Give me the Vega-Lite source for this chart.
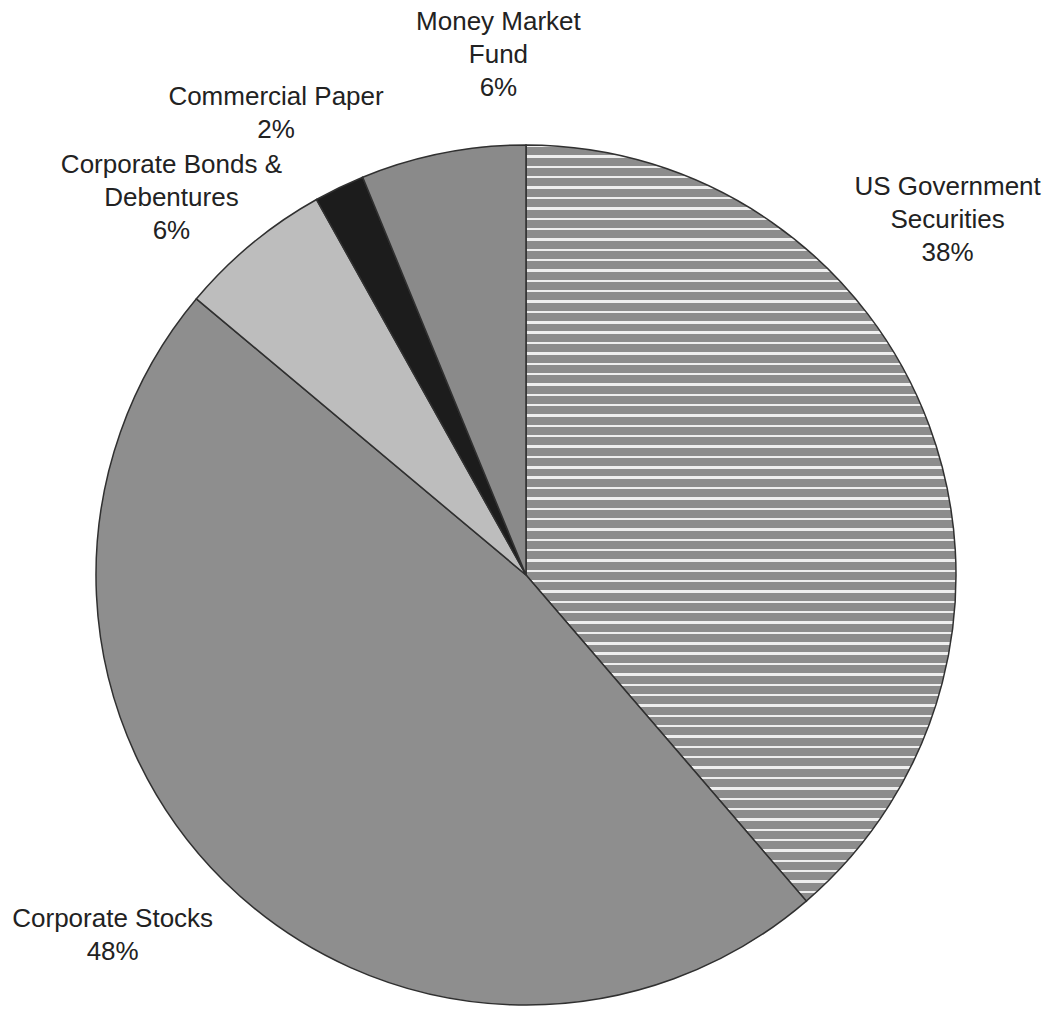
{
  "$schema": "https://vega.github.io/schema/vega-lite/v6.json",
  "width": 1052,
  "height": 874,
  "padding": {"top": 138, "left": 0, "right": 0, "bottom": 0},
  "autosize": {"type": "none"},
  "background": "white",
  "config": {"view": {"stroke": null}, "text": {"font": "Liberation Sans"}},
  "data": {
    "values": [
      {"category": "US Government Securities", "share": 38.7, "order": 1, "label": "US Government\nSecurities\n38%"},
      {"category": "Corporate Stocks", "share": 47.4, "order": 2, "label": "Corporate Stocks\n48%"},
      {"category": "Corporate Bonds & Debentures", "share": 5.8, "order": 3, "label": "Corporate Bonds &\nDebentures\n6%"},
      {"category": "Commercial Paper", "share": 1.9, "order": 4, "label": "Commercial Paper\n2%"},
      {"category": "Money Market Fund", "share": 6.2, "order": 5, "label": "Money Market\nFund\n6%"}
    ]
  },
  "encoding": {
    "theta": {"field": "share", "type": "quantitative", "stack": true},
    "order": {"field": "order", "type": "quantitative"}
  },
  "layer": [
    {
      "mark": {"type": "arc", "outerRadius": 430, "stroke": "#303030", "strokeWidth": 1.5},
      "encoding": {
        "color": {
          "condition": {
            "test": "datum.category === 'US Government Securities'",
            "value": {
              "gradient": "linear", "x1": 0, "y1": 0, "x2": 0, "y2": 1,
              "stops": [
{"offset":0.0000,"color":"#eeeeee"},{"offset":0.0032,"color":"#eeeeee"},{"offset":0.0032,"color":"#8c8c8c"},{"offset":0.0137,"color":"#8c8c8c"},
{"offset":0.0137,"color":"#eeeeee"},{"offset":0.0169,"color":"#eeeeee"},{"offset":0.0169,"color":"#8c8c8c"},{"offset":0.0274,"color":"#8c8c8c"},
{"offset":0.0274,"color":"#eeeeee"},{"offset":0.0306,"color":"#eeeeee"},{"offset":0.0306,"color":"#8c8c8c"},{"offset":0.0411,"color":"#8c8c8c"},
{"offset":0.0411,"color":"#eeeeee"},{"offset":0.0443,"color":"#eeeeee"},{"offset":0.0443,"color":"#8c8c8c"},{"offset":0.0548,"color":"#8c8c8c"},
{"offset":0.0548,"color":"#eeeeee"},{"offset":0.0580,"color":"#eeeeee"},{"offset":0.0580,"color":"#8c8c8c"},{"offset":0.0685,"color":"#8c8c8c"},
{"offset":0.0685,"color":"#eeeeee"},{"offset":0.0717,"color":"#eeeeee"},{"offset":0.0717,"color":"#8c8c8c"},{"offset":0.0822,"color":"#8c8c8c"},
{"offset":0.0822,"color":"#eeeeee"},{"offset":0.0854,"color":"#eeeeee"},{"offset":0.0854,"color":"#8c8c8c"},{"offset":0.0959,"color":"#8c8c8c"},
{"offset":0.0959,"color":"#eeeeee"},{"offset":0.0991,"color":"#eeeeee"},{"offset":0.0991,"color":"#8c8c8c"},{"offset":0.1096,"color":"#8c8c8c"},
{"offset":0.1096,"color":"#eeeeee"},{"offset":0.1128,"color":"#eeeeee"},{"offset":0.1128,"color":"#8c8c8c"},{"offset":0.1233,"color":"#8c8c8c"},
{"offset":0.1233,"color":"#eeeeee"},{"offset":0.1265,"color":"#eeeeee"},{"offset":0.1265,"color":"#8c8c8c"},{"offset":0.1370,"color":"#8c8c8c"},
{"offset":0.1370,"color":"#eeeeee"},{"offset":0.1402,"color":"#eeeeee"},{"offset":0.1402,"color":"#8c8c8c"},{"offset":0.1507,"color":"#8c8c8c"},
{"offset":0.1507,"color":"#eeeeee"},{"offset":0.1539,"color":"#eeeeee"},{"offset":0.1539,"color":"#8c8c8c"},{"offset":0.1644,"color":"#8c8c8c"},
{"offset":0.1644,"color":"#eeeeee"},{"offset":0.1676,"color":"#eeeeee"},{"offset":0.1676,"color":"#8c8c8c"},{"offset":0.1781,"color":"#8c8c8c"},
{"offset":0.1781,"color":"#eeeeee"},{"offset":0.1813,"color":"#eeeeee"},{"offset":0.1813,"color":"#8c8c8c"},{"offset":0.1918,"color":"#8c8c8c"},
{"offset":0.1918,"color":"#eeeeee"},{"offset":0.1950,"color":"#eeeeee"},{"offset":0.1950,"color":"#8c8c8c"},{"offset":0.2055,"color":"#8c8c8c"},
{"offset":0.2055,"color":"#eeeeee"},{"offset":0.2087,"color":"#eeeeee"},{"offset":0.2087,"color":"#8c8c8c"},{"offset":0.2192,"color":"#8c8c8c"},
{"offset":0.2192,"color":"#eeeeee"},{"offset":0.2224,"color":"#eeeeee"},{"offset":0.2224,"color":"#8c8c8c"},{"offset":0.2329,"color":"#8c8c8c"},
{"offset":0.2329,"color":"#eeeeee"},{"offset":0.2361,"color":"#eeeeee"},{"offset":0.2361,"color":"#8c8c8c"},{"offset":0.2466,"color":"#8c8c8c"},
{"offset":0.2466,"color":"#eeeeee"},{"offset":0.2498,"color":"#eeeeee"},{"offset":0.2498,"color":"#8c8c8c"},{"offset":0.2603,"color":"#8c8c8c"},
{"offset":0.2603,"color":"#eeeeee"},{"offset":0.2635,"color":"#eeeeee"},{"offset":0.2635,"color":"#8c8c8c"},{"offset":0.2740,"color":"#8c8c8c"},
{"offset":0.2740,"color":"#eeeeee"},{"offset":0.2772,"color":"#eeeeee"},{"offset":0.2772,"color":"#8c8c8c"},{"offset":0.2877,"color":"#8c8c8c"},
{"offset":0.2877,"color":"#eeeeee"},{"offset":0.2909,"color":"#eeeeee"},{"offset":0.2909,"color":"#8c8c8c"},{"offset":0.3014,"color":"#8c8c8c"},
{"offset":0.3014,"color":"#eeeeee"},{"offset":0.3046,"color":"#eeeeee"},{"offset":0.3046,"color":"#8c8c8c"},{"offset":0.3151,"color":"#8c8c8c"},
{"offset":0.3151,"color":"#eeeeee"},{"offset":0.3183,"color":"#eeeeee"},{"offset":0.3183,"color":"#8c8c8c"},{"offset":0.3288,"color":"#8c8c8c"},
{"offset":0.3288,"color":"#eeeeee"},{"offset":0.3320,"color":"#eeeeee"},{"offset":0.3320,"color":"#8c8c8c"},{"offset":0.3425,"color":"#8c8c8c"},
{"offset":0.3425,"color":"#eeeeee"},{"offset":0.3457,"color":"#eeeeee"},{"offset":0.3457,"color":"#8c8c8c"},{"offset":0.3562,"color":"#8c8c8c"},
{"offset":0.3562,"color":"#eeeeee"},{"offset":0.3594,"color":"#eeeeee"},{"offset":0.3594,"color":"#8c8c8c"},{"offset":0.3699,"color":"#8c8c8c"},
{"offset":0.3699,"color":"#eeeeee"},{"offset":0.3731,"color":"#eeeeee"},{"offset":0.3731,"color":"#8c8c8c"},{"offset":0.3836,"color":"#8c8c8c"},
{"offset":0.3836,"color":"#eeeeee"},{"offset":0.3868,"color":"#eeeeee"},{"offset":0.3868,"color":"#8c8c8c"},{"offset":0.3973,"color":"#8c8c8c"},
{"offset":0.3973,"color":"#eeeeee"},{"offset":0.4005,"color":"#eeeeee"},{"offset":0.4005,"color":"#8c8c8c"},{"offset":0.4110,"color":"#8c8c8c"},
{"offset":0.4110,"color":"#eeeeee"},{"offset":0.4142,"color":"#eeeeee"},{"offset":0.4142,"color":"#8c8c8c"},{"offset":0.4247,"color":"#8c8c8c"},
{"offset":0.4247,"color":"#eeeeee"},{"offset":0.4279,"color":"#eeeeee"},{"offset":0.4279,"color":"#8c8c8c"},{"offset":0.4384,"color":"#8c8c8c"},
{"offset":0.4384,"color":"#eeeeee"},{"offset":0.4416,"color":"#eeeeee"},{"offset":0.4416,"color":"#8c8c8c"},{"offset":0.4521,"color":"#8c8c8c"},
{"offset":0.4521,"color":"#eeeeee"},{"offset":0.4553,"color":"#eeeeee"},{"offset":0.4553,"color":"#8c8c8c"},{"offset":0.4658,"color":"#8c8c8c"},
{"offset":0.4658,"color":"#eeeeee"},{"offset":0.4690,"color":"#eeeeee"},{"offset":0.4690,"color":"#8c8c8c"},{"offset":0.4795,"color":"#8c8c8c"},
{"offset":0.4795,"color":"#eeeeee"},{"offset":0.4827,"color":"#eeeeee"},{"offset":0.4827,"color":"#8c8c8c"},{"offset":0.4932,"color":"#8c8c8c"},
{"offset":0.4932,"color":"#eeeeee"},{"offset":0.4964,"color":"#eeeeee"},{"offset":0.4964,"color":"#8c8c8c"},{"offset":0.5068,"color":"#8c8c8c"},
{"offset":0.5068,"color":"#eeeeee"},{"offset":0.5100,"color":"#eeeeee"},{"offset":0.5100,"color":"#8c8c8c"},{"offset":0.5205,"color":"#8c8c8c"},
{"offset":0.5205,"color":"#eeeeee"},{"offset":0.5237,"color":"#eeeeee"},{"offset":0.5237,"color":"#8c8c8c"},{"offset":0.5342,"color":"#8c8c8c"},
{"offset":0.5342,"color":"#eeeeee"},{"offset":0.5374,"color":"#eeeeee"},{"offset":0.5374,"color":"#8c8c8c"},{"offset":0.5479,"color":"#8c8c8c"},
{"offset":0.5479,"color":"#eeeeee"},{"offset":0.5511,"color":"#eeeeee"},{"offset":0.5511,"color":"#8c8c8c"},{"offset":0.5616,"color":"#8c8c8c"},
{"offset":0.5616,"color":"#eeeeee"},{"offset":0.5648,"color":"#eeeeee"},{"offset":0.5648,"color":"#8c8c8c"},{"offset":0.5753,"color":"#8c8c8c"},
{"offset":0.5753,"color":"#eeeeee"},{"offset":0.5785,"color":"#eeeeee"},{"offset":0.5785,"color":"#8c8c8c"},{"offset":0.5890,"color":"#8c8c8c"},
{"offset":0.5890,"color":"#eeeeee"},{"offset":0.5922,"color":"#eeeeee"},{"offset":0.5922,"color":"#8c8c8c"},{"offset":0.6027,"color":"#8c8c8c"},
{"offset":0.6027,"color":"#eeeeee"},{"offset":0.6059,"color":"#eeeeee"},{"offset":0.6059,"color":"#8c8c8c"},{"offset":0.6164,"color":"#8c8c8c"},
{"offset":0.6164,"color":"#eeeeee"},{"offset":0.6196,"color":"#eeeeee"},{"offset":0.6196,"color":"#8c8c8c"},{"offset":0.6301,"color":"#8c8c8c"},
{"offset":0.6301,"color":"#eeeeee"},{"offset":0.6333,"color":"#eeeeee"},{"offset":0.6333,"color":"#8c8c8c"},{"offset":0.6438,"color":"#8c8c8c"},
{"offset":0.6438,"color":"#eeeeee"},{"offset":0.6470,"color":"#eeeeee"},{"offset":0.6470,"color":"#8c8c8c"},{"offset":0.6575,"color":"#8c8c8c"},
{"offset":0.6575,"color":"#eeeeee"},{"offset":0.6607,"color":"#eeeeee"},{"offset":0.6607,"color":"#8c8c8c"},{"offset":0.6712,"color":"#8c8c8c"},
{"offset":0.6712,"color":"#eeeeee"},{"offset":0.6744,"color":"#eeeeee"},{"offset":0.6744,"color":"#8c8c8c"},{"offset":0.6849,"color":"#8c8c8c"},
{"offset":0.6849,"color":"#eeeeee"},{"offset":0.6881,"color":"#eeeeee"},{"offset":0.6881,"color":"#8c8c8c"},{"offset":0.6986,"color":"#8c8c8c"},
{"offset":0.6986,"color":"#eeeeee"},{"offset":0.7018,"color":"#eeeeee"},{"offset":0.7018,"color":"#8c8c8c"},{"offset":0.7123,"color":"#8c8c8c"},
{"offset":0.7123,"color":"#eeeeee"},{"offset":0.7155,"color":"#eeeeee"},{"offset":0.7155,"color":"#8c8c8c"},{"offset":0.7260,"color":"#8c8c8c"},
{"offset":0.7260,"color":"#eeeeee"},{"offset":0.7292,"color":"#eeeeee"},{"offset":0.7292,"color":"#8c8c8c"},{"offset":0.7397,"color":"#8c8c8c"},
{"offset":0.7397,"color":"#eeeeee"},{"offset":0.7429,"color":"#eeeeee"},{"offset":0.7429,"color":"#8c8c8c"},{"offset":0.7534,"color":"#8c8c8c"},
{"offset":0.7534,"color":"#eeeeee"},{"offset":0.7566,"color":"#eeeeee"},{"offset":0.7566,"color":"#8c8c8c"},{"offset":0.7671,"color":"#8c8c8c"},
{"offset":0.7671,"color":"#eeeeee"},{"offset":0.7703,"color":"#eeeeee"},{"offset":0.7703,"color":"#8c8c8c"},{"offset":0.7808,"color":"#8c8c8c"},
{"offset":0.7808,"color":"#eeeeee"},{"offset":0.7840,"color":"#eeeeee"},{"offset":0.7840,"color":"#8c8c8c"},{"offset":0.7945,"color":"#8c8c8c"},
{"offset":0.7945,"color":"#eeeeee"},{"offset":0.7977,"color":"#eeeeee"},{"offset":0.7977,"color":"#8c8c8c"},{"offset":0.8082,"color":"#8c8c8c"},
{"offset":0.8082,"color":"#eeeeee"},{"offset":0.8114,"color":"#eeeeee"},{"offset":0.8114,"color":"#8c8c8c"},{"offset":0.8219,"color":"#8c8c8c"},
{"offset":0.8219,"color":"#eeeeee"},{"offset":0.8251,"color":"#eeeeee"},{"offset":0.8251,"color":"#8c8c8c"},{"offset":0.8356,"color":"#8c8c8c"},
{"offset":0.8356,"color":"#eeeeee"},{"offset":0.8388,"color":"#eeeeee"},{"offset":0.8388,"color":"#8c8c8c"},{"offset":0.8493,"color":"#8c8c8c"},
{"offset":0.8493,"color":"#eeeeee"},{"offset":0.8525,"color":"#eeeeee"},{"offset":0.8525,"color":"#8c8c8c"},{"offset":0.8630,"color":"#8c8c8c"},
{"offset":0.8630,"color":"#eeeeee"},{"offset":0.8662,"color":"#eeeeee"},{"offset":0.8662,"color":"#8c8c8c"},{"offset":0.8767,"color":"#8c8c8c"},
{"offset":0.8767,"color":"#eeeeee"},{"offset":0.8799,"color":"#eeeeee"},{"offset":0.8799,"color":"#8c8c8c"},{"offset":0.8904,"color":"#8c8c8c"},
{"offset":0.8904,"color":"#eeeeee"},{"offset":0.8936,"color":"#eeeeee"},{"offset":0.8936,"color":"#8c8c8c"},{"offset":0.9041,"color":"#8c8c8c"},
{"offset":0.9041,"color":"#eeeeee"},{"offset":0.9073,"color":"#eeeeee"},{"offset":0.9073,"color":"#8c8c8c"},{"offset":0.9178,"color":"#8c8c8c"},
{"offset":0.9178,"color":"#eeeeee"},{"offset":0.9210,"color":"#eeeeee"},{"offset":0.9210,"color":"#8c8c8c"},{"offset":0.9315,"color":"#8c8c8c"},
{"offset":0.9315,"color":"#eeeeee"},{"offset":0.9347,"color":"#eeeeee"},{"offset":0.9347,"color":"#8c8c8c"},{"offset":0.9452,"color":"#8c8c8c"},
{"offset":0.9452,"color":"#eeeeee"},{"offset":0.9484,"color":"#eeeeee"},{"offset":0.9484,"color":"#8c8c8c"},{"offset":0.9589,"color":"#8c8c8c"},
{"offset":0.9589,"color":"#eeeeee"},{"offset":0.9621,"color":"#eeeeee"},{"offset":0.9621,"color":"#8c8c8c"},{"offset":0.9726,"color":"#8c8c8c"},
{"offset":0.9726,"color":"#eeeeee"},{"offset":0.9758,"color":"#eeeeee"},{"offset":0.9758,"color":"#8c8c8c"},{"offset":0.9863,"color":"#8c8c8c"},
{"offset":0.9863,"color":"#eeeeee"},{"offset":0.9895,"color":"#eeeeee"},{"offset":0.9895,"color":"#8c8c8c"},{"offset":1.0000,"color":"#8c8c8c"}
              ]
            }
          },
          "field": "category",
          "type": "nominal",
          "legend": null,
          "scale": {
            "domain": ["US Government Securities", "Corporate Stocks", "Corporate Bonds & Debentures", "Commercial Paper", "Money Market Fund"],
            "range": ["#9a9a9a", "#8e8e8e", "#bdbdbd", "#1c1c1c", "#8a8a8a"]
          }
        }
      }
    },
    {
      "mark": {"type": "text", "radius": 573, "thetaOffset": -0.389, "align": "center", "baseline": "middle", "fontSize": 26, "lineHeight": 33, "lineBreak": "\n", "color": "#222222"},
      "encoding": {"text": {"condition": {"test": "datum.category === 'US Government Securities'", "field": "label", "type": "nominal"}, "value": ""}}
    },
    {
      "mark": {"type": "text", "radius": 538, "thetaOffset": 0.097, "align": "center", "baseline": "middle", "fontSize": 26, "lineHeight": 33, "lineBreak": "\n", "color": "#222222"},
      "encoding": {"text": {"condition": {"test": "datum.category === 'Corporate Stocks'", "field": "label", "type": "nominal"}, "value": ""}}
    },
    {
      "mark": {"type": "text", "radius": 542, "thetaOffset": -0.022, "align": "center", "baseline": "middle", "fontSize": 26, "lineHeight": 33, "lineBreak": "\n", "color": "#222222"},
      "encoding": {"text": {"condition": {"test": "datum.category === 'Corporate Bonds & Debentures'", "field": "label", "type": "nominal"}, "value": ""}}
    },
    {
      "mark": {"type": "text", "radius": 539, "thetaOffset": -0.033, "align": "center", "baseline": "middle", "fontSize": 26, "lineHeight": 33, "lineBreak": "\n", "color": "#222222"},
      "encoding": {"text": {"condition": {"test": "datum.category === 'Commercial Paper'", "field": "label", "type": "nominal"}, "value": ""}}
    },
    {
      "mark": {"type": "text", "radius": 554, "thetaOffset": 0.145, "align": "center", "baseline": "middle", "fontSize": 26, "lineHeight": 33, "lineBreak": "\n", "color": "#222222"},
      "encoding": {"text": {"condition": {"test": "datum.category === 'Money Market Fund'", "field": "label", "type": "nominal"}, "value": ""}}
    }
  ]
}
